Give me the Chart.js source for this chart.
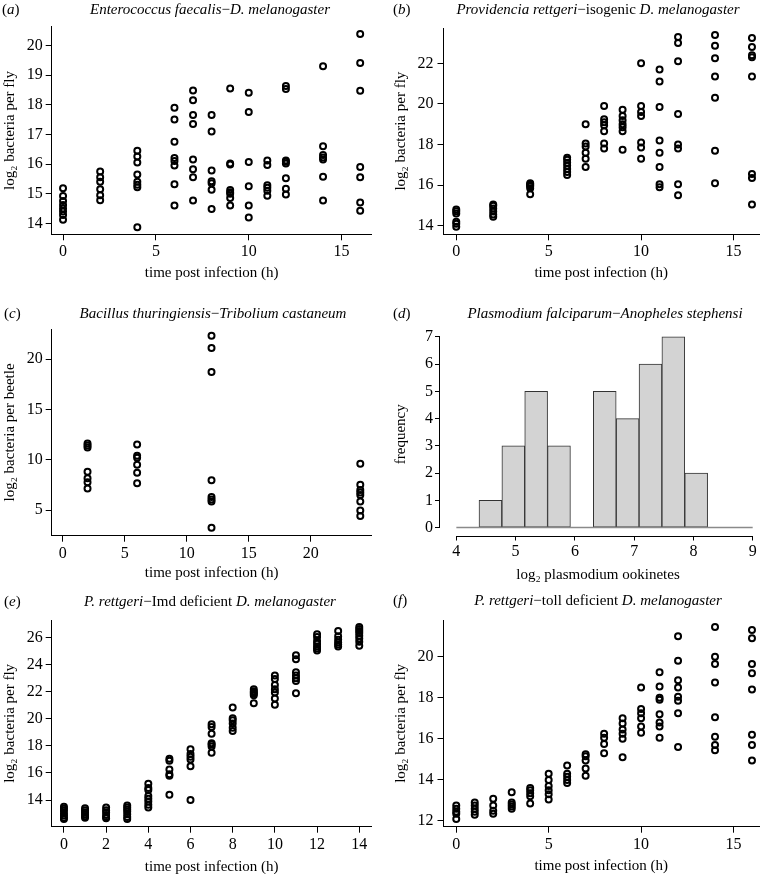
<!DOCTYPE html>
<html>
<head>
<meta charset="utf-8">
<script src="https://cdn.jsdelivr.net/npm/chart.js@4.4.1/dist/chart.umd.min.js"></script>
<style>
html, body { margin: 0; padding: 0; background: #fff; overflow: hidden; }
#fig { position: relative; width: 765px; height: 874px; }
canvas { position: absolute; }
.head, .tag { position: absolute; font-family: "Liberation Serif", "DejaVu Serif", serif; font-size: 15px; white-space: nowrap; color: #000; }
.head { transform: translate(-50%, -50%); }
.tag { transform: translateY(-50%); }
</style>
</head>
<body>
<div id="fig">
  <canvas id="pa"></canvas>
  <canvas id="pb"></canvas>
  <canvas id="pc"></canvas>
  <canvas id="pd"></canvas>
  <canvas id="pe"></canvas>
  <canvas id="pf"></canvas>

  <div class="tag" style="left:2px;top:8.5px">(<i>a</i>)</div>
  <div class="head" style="left:210px;top:8.5px"><i>Enterococcus faecalis</i>−<i>D. melanogaster</i></div>
  <div class="tag" style="left:393px;top:8.5px">(<i>b</i>)</div>
  <div class="head" style="left:598px;top:8.5px"><i>Providencia rettgeri</i>−isogenic <i>D. melanogaster</i></div>
  <div class="tag" style="left:4px;top:312.5px">(<i>c</i>)</div>
  <div class="head" style="left:213px;top:312.5px"><i>Bacillus thuringiensis</i>−<i>Tribolium castaneum</i></div>
  <div class="tag" style="left:393px;top:312.5px">(<i>d</i>)</div>
  <div class="head" style="left:605px;top:312.5px"><i>Plasmodium falciparum</i>−<i>Anopheles stephensi</i></div>
  <div class="tag" style="left:4px;top:600.5px">(<i>e</i>)</div>
  <div class="head" style="left:210px;top:600.5px"><i>P. rettgeri</i>−Imd deficient <i>D. melanogaster</i></div>
  <div class="tag" style="left:393px;top:600px">(<i>f</i>)</div>
  <div class="head" style="left:598px;top:600px"><i>P. rettgeri</i>−toll deficient <i>D. melanogaster</i></div>
</div>

<script>
// (a) E. faecalis
const timesA = [0, 2, 4, 6, 7, 8, 9, 10, 11, 12, 14, 16];
const valsA = [
    [15.18, 14.92, 14.75, 14.62, 14.5, 14.4, 14.28, 14.12],
    [15.75, 15.55, 15.4, 15.15, 14.95, 14.78],
    [16.45, 16.25, 16.05, 15.65, 15.4, 15.3, 15.22, 13.87],
    [17.9, 17.5, 16.75, 16.2, 16.1, 15.95, 15.32, 14.6],
    [18.48, 18.15, 17.65, 17.35, 16.15, 15.82, 15.55, 14.77],
    [17.65, 17.1, 15.78, 15.42, 15.35, 15.13, 14.48],
    [18.55, 16.02, 15.98, 15.12, 15.05, 15.0, 14.85, 14.6],
    [18.4, 17.75, 16.07, 15.25, 14.6, 14.2],
    [16.12, 15.97, 15.28, 15.2, 15.1, 14.93],
    [18.63, 18.53, 16.12, 16.08, 16.02, 15.52, 15.17, 14.97],
    [19.3, 16.6, 16.3, 16.22, 16.15, 15.57, 14.77],
    [20.38, 19.41, 18.47, 15.9, 15.55, 14.7, 14.42]
];
const xTicksA = [0, 5, 10, 15];
const yTicksA = [14, 15, 16, 17, 18, 19, 20];

// (b) P. rettgeri, isogenic
const timesB = [0, 2, 4, 6, 7, 8, 9, 10, 11, 12, 14, 16];
const valsB = [
    [14.8, 14.72, 14.6, 14.2, 14.1, 13.95],
    [15.05, 14.98, 14.85, 14.7, 14.55, 14.45],
    [16.1, 16.05, 16.0, 15.95, 15.85, 15.55],
    [17.35, 17.25, 17.1, 16.95, 16.8, 16.65, 16.5],
    [19.0, 18.05, 17.9, 17.6, 17.3, 16.9],
    [19.9, 19.25, 19.1, 18.95, 18.65, 18.05, 17.8],
    [19.72, 19.4, 19.2, 19.0, 18.85, 18.65, 17.75],
    [22.0, 19.9, 19.6, 19.4, 18.1, 17.85, 17.3],
    [21.7, 21.1, 19.85, 18.2, 17.6, 16.9, 16.05, 15.9],
    [23.3, 23.0, 22.1, 19.5, 18.0, 17.8, 16.05, 15.5],
    [23.4, 22.87, 22.25, 21.35, 20.3, 17.7, 16.1],
    [23.25, 22.8, 22.4, 22.3, 21.35, 16.55, 16.35, 15.05]
];
const xTicksB = [0, 5, 10, 15];
const yTicksB = [14, 16, 18, 20, 22];

// (c) B. thuringiensis
const timesC = [2, 6, 12, 24];
const valsC = [
    [11.6, 11.4, 11.2, 8.8, 8.15, 7.75, 7.15],
    [11.5, 10.4, 10.2, 9.5, 8.7, 7.65],
    [22.3, 21.1, 18.7, 7.95, 6.3, 6.05, 5.85, 3.25],
    [9.6, 7.5, 7.0, 6.75, 6.5, 5.85, 4.95, 4.4]
];
const xTicksC = [0, 5, 10, 15, 20];
const yTicksC = [5, 10, 15, 20];

// (d) P. falciparum histogram
const binEdgesD = [4.382, 4.768, 5.154, 5.539, 5.925, 6.311, 6.697, 7.083, 7.468, 7.854, 8.24];
const countsD = [1, 3, 5, 3, 0, 5, 4, 6, 7, 2];
const xTicksD = [4, 5, 6, 7, 8, 9];
const yTicksD = [0, 1, 2, 3, 4, 5, 6, 7];

// (e) P. rettgeri, Imd deficient
const timesE = [0, 1, 2, 3, 4, 5, 6, 7, 8, 9, 10, 11, 12, 13, 14];
const valsE = [
    [13.5, 13.35, 13.2, 13.0, 12.85, 12.7, 12.6],
    [13.4, 13.25, 13.1, 12.95, 12.8, 12.7],
    [13.45, 13.25, 13.1, 12.9, 12.75, 12.65],
    [13.6, 13.45, 13.3, 13.15, 12.95, 12.75, 12.6],
    [15.2, 14.9, 14.75, 14.3, 14.1, 13.9, 13.65, 13.45],
    [17.05, 16.9, 16.25, 15.9, 15.8, 14.4],
    [17.75, 17.4, 17.2, 17.0, 16.5, 14.0],
    [19.6, 19.4, 18.9, 18.2, 18.1, 17.95, 17.5],
    [20.85, 20.05, 19.9, 19.65, 19.35, 19.1],
    [22.2, 22.05, 21.95, 21.85, 21.75, 21.15],
    [23.2, 22.95, 22.5, 22.2, 21.95, 21.5, 21.05],
    [24.7, 24.4, 23.45, 23.2, 23.0, 22.8, 21.9],
    [26.25, 26.05, 25.75, 25.55, 25.35, 25.2, 25.05],
    [26.5, 26.1, 25.85, 25.65, 25.5, 25.35],
    [26.8, 26.65, 26.5, 26.35, 26.15, 25.95, 25.7, 25.4]
];
const xTicksE = [0, 2, 4, 6, 8, 10, 12, 14];
const yTicksE = [14, 16, 18, 20, 22, 24, 26];

// (f) P. rettgeri, toll deficient
const timesF = [0, 1, 2, 3, 4, 5, 6, 7, 8, 9, 10, 11, 12, 14, 16];
const valsF = [
    [12.75, 12.6, 12.45, 12.35, 12.1],
    [12.9, 12.75, 12.6, 12.45, 12.3],
    [13.08, 12.75, 12.5, 12.35],
    [13.4, 12.9, 12.8, 12.7, 12.6],
    [13.6, 13.5, 13.35, 13.2, 12.85],
    [14.3, 14.0, 13.7, 13.5, 13.3, 13.05],
    [14.7, 14.3, 14.15, 14.0, 13.85],
    [15.25, 15.15, 14.95, 14.55, 14.2],
    [16.25, 16.05, 15.75, 15.3],
    [17.0, 16.75, 16.45, 16.25, 16.0, 15.1],
    [18.5, 17.45, 17.25, 17.0, 16.6, 16.3],
    [19.25, 18.55, 18.0, 17.9, 17.2, 16.8, 16.6, 16.05],
    [21.0, 19.8, 18.85, 18.5, 18.05, 17.85, 17.25, 15.6],
    [21.45, 20.0, 19.65, 18.75, 17.05, 16.1, 15.7, 15.45],
    [21.3, 20.9, 19.65, 19.2, 18.4, 16.2, 15.7, 14.95]
];
const xTicksF = [0, 5, 10, 15];
const yTicksF = [12, 14, 16, 18, 20];

const SERIF = '"Liberation Serif", "DejaVu Serif", serif';
const X_TITLE = 'time post infection (h)';
const Y_TITLE_FLY = 'log\u2082 bacteria per fly';

function points(times, vals) {
    return times.flatMap((t, i) => vals[i].map(v => ({ x: t, y: v })));
}

function circles(data) {
    return {
        data: data,
        showLine: false,
        pointStyle: 'circle',
        pointRadius: 3,
        pointBorderWidth: 2,
        pointBorderColor: '#000',
        pointBackgroundColor: 'rgba(0,0,0,0)'
    };
}

// R style axis lines that only run from the first to the last tick
const rAxes = {
    id: 'rAxes',
    afterDatasetsDraw(chart) {
        const { ctx, scales: { x, y } } = chart;
        const xt = x.ticks, yt = y.ticks;
        ctx.save();
        ctx.strokeStyle = '#000';
        ctx.lineWidth = 1;
        ctx.beginPath();
        const yy = Math.round(x.top) + 0.5;
        ctx.moveTo(x.getPixelForValue(xt[0].value), yy);
        ctx.lineTo(x.getPixelForValue(xt[xt.length - 1].value), yy);
        const xx = Math.round(y.right) - 0.5;
        ctx.moveTo(xx, y.getPixelForValue(yt[0].value));
        ctx.lineTo(xx, y.getPixelForValue(yt[yt.length - 1].value));
        ctx.stroke();
        ctx.restore();
    }
};

function axis(cfg) {
    return {
        type: 'linear',
        min: cfg.min,
        max: cfg.max,
        offset: false,
        afterBuildTicks: s => { s.ticks = cfg.ticks.map(v => ({ value: v })); },
        afterFit: s => { if (cfg.width !== undefined) s.width = cfg.width; if (cfg.height !== undefined) s.height = cfg.height; },
        grid: { display: true, drawOnChartArea: false, drawTicks: true, tickLength: cfg.tickLength || 6, color: '#000', lineWidth: 1, offset: false },
        border: { display: cfg.border !== false, color: '#000', width: 1 },
        ticks: { color: '#000', font: { family: SERIF, size: 16 }, padding: cfg.padding, maxRotation: 0, autoSkip: false },
        title: { display: true, text: cfg.title, color: '#000', font: { family: SERIF, size: 15 }, padding: cfg.titlePad }
    };
}

function panel(id, box, area, xCfg, yCfg, type, datasets, extraPlugins) {
    const cv = document.getElementById(id);
    cv.width = box.w;
    cv.height = box.h;
    cv.style.left = box.l + 'px';
    cv.style.top = box.t + 'px';
    xCfg.height = box.t + box.h - area.b;
    yCfg.width = area.l - box.l;
    return new Chart(cv, {
        type: type,
        data: { datasets: datasets },
        options: {
            responsive: false,
            animation: false,
            events: [],
            layout: { padding: { left: 0, bottom: 0, top: area.t - box.t, right: box.l + box.w - area.r } },
            plugins: { legend: { display: false }, tooltip: { enabled: false } },
            scales: { x: axis(xCfg), y: axis(yCfg) }
        },
        plugins: extraPlugins || []
    });
}

panel('pa', { l: 0, t: 0, w: 382, h: 290 }, { l: 51.7, t: 26.7, r: 371.7, b: 234.3 },
    { min: -0.61, max: 16.62, ticks: xTicksA, padding: 2, title: X_TITLE, titlePad: { top: 0, bottom: 8 } },
    { min: 13.63, max: 20.63, ticks: yTicksA, padding: 3, title: Y_TITLE_FLY, titlePad: { top: 1, bottom: 0 } },
    'scatter', [circles(points(timesA, valsA))]);

panel('pb', { l: 382, t: 0, w: 383, h: 290 }, { l: 443.5, t: 28, r: 760, b: 234.3 },
    { min: -0.69, max: 16.38, ticks: xTicksB, padding: 2, title: X_TITLE, titlePad: { top: 0, bottom: 8 } },
    { min: 13.58, max: 23.74, ticks: yTicksB, padding: 4, title: Y_TITLE_FLY, titlePad: { top: 10.5, bottom: 0 } },
    'scatter', [circles(points(timesB, valsB))]);

panel('pc', { l: 0, t: 290, w: 382, h: 300 }, { l: 51.7, t: 329.3, r: 371.7, b: 535.7 },
    { min: -0.89, max: 24.92, ticks: xTicksC, padding: 2, title: X_TITLE, titlePad: { top: 0, bottom: 7.7 } },
    { min: 2.45, max: 22.95, ticks: yTicksC, padding: 3, title: 'log\u2082 bacteria per beetle', titlePad: { top: 1, bottom: 0 } },
    'scatter', [circles(points(timesC, valsC))]);

const midsD = countsD.map((c, i) => (binEdgesD[i] + binEdgesD[i + 1]) / 2);
panel('pd', { l: 382, t: 290, w: 383, h: 300 }, { l: 440, t: 333, r: 756, b: 535.5 },
    { min: 3.724, max: 9.056, ticks: xTicksD, padding: 2, tickLength: 5, border: false, title: 'log\u2082 plasmodium ookinetes', titlePad: { top: 0, bottom: 6 } },
    { min: -0.29, max: 7.14, ticks: yTicksD, padding: 2, tickLength: 5, border: false, title: 'frequency', titlePad: { top: 10.5, bottom: 0 } },
    'bar', [
        {
            type: 'line',
            data: [{ x: xTicksD[0], y: 0 }, { x: xTicksD[xTicksD.length - 1], y: 0 }],
            borderColor: '#8a8a8a',
            borderWidth: 1.5,
            pointRadius: 0
        },
        {
            type: 'bar',
            data: midsD.map((m, i) => ({ x: m, y: countsD[i] })),
            backgroundColor: '#d3d3d3',
            borderColor: '#333',
            borderWidth: 1,
            borderSkipped: false,
            barPercentage: 1,
            categoryPercentage: 1
        }
    ], [rAxes]);

panel('pe', { l: 0, t: 580, w: 382, h: 300 }, { l: 51.7, t: 620, r: 371.7, b: 826.7 },
    { min: -0.58, max: 14.59, ticks: xTicksE, padding: 2, title: X_TITLE, titlePad: { top: 0, bottom: 4 } },
    { min: 12.03, max: 27.31, ticks: yTicksE, padding: 3, title: Y_TITLE_FLY, titlePad: { top: 1, bottom: 0 } },
    'scatter', [circles(points(timesE, valsE))]);

panel('pf', { l: 382, t: 580, w: 383, h: 300 }, { l: 443.5, t: 620, r: 760, b: 826.7 },
    { min: -0.69, max: 16.38, ticks: xTicksF, padding: 2, title: X_TITLE, titlePad: { top: 0, bottom: 5 } },
    { min: 11.72, max: 21.79, ticks: yTicksF, padding: 4, title: Y_TITLE_FLY, titlePad: { top: 10.5, bottom: 0 } },
    'scatter', [circles(points(timesF, valsF))]);
</script>
</body>
</html>
